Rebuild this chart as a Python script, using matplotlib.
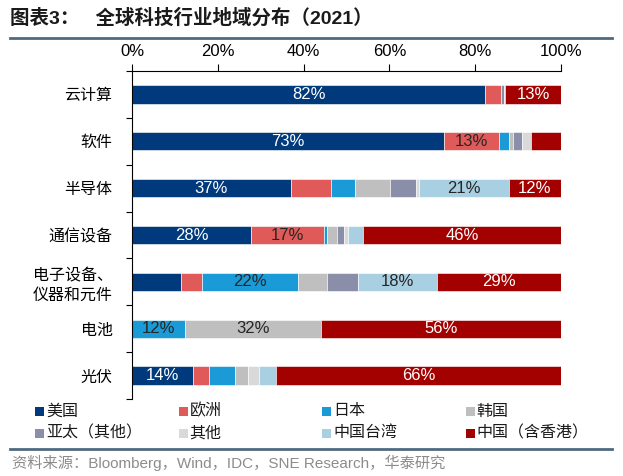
import numpy as np
import matplotlib
matplotlib.use('Agg')
import matplotlib.pyplot as plt
from matplotlib.lines import Line2D
from matplotlib.patches import Rectangle

# fonts: latin in Arial-like, chinese falls back to Noto CJK
plt.rcParams['font.family'] = ['Liberation Sans', 'Noto Sans CJK SC', 'DejaVu Sans']

# data (share of each region, %)
categories = ['云计算', '软件', '半导体', '通信设备', '电子设备、\n仪器和元件', '电池', '光伏']
regions = ['美国', '欧洲', '日本', '韩国', '亚太（其他）', '其他', '中国台湾', '中国（含香港）']

us = [82.4, 72.7, 37.0, 27.7, 11.4, 0.0, 14.3]
europe = [3.7, 12.8, 9.3, 17.0, 4.9, 0.0, 3.6]
japan = [0.0, 2.4, 5.7, 0.8, 22.4, 12.3, 6.2]
korea = [0.0, 0.9, 8.2, 2.2, 6.8, 31.8, 2.9]
apac = [0.5, 2.2, 6.0, 1.7, 7.1, 0.0, 0.0]
other = [0.4, 2.0, 0.6, 0.9, 0.1, 0.0, 2.7]
taiwan = [0.0, 0.0, 21.0, 3.6, 18.4, 0.0, 3.8]
china = [13.0, 7.0, 12.2, 46.1, 28.9, 55.9, 66.5]

xticks = [0, 20, 40, 60, 80, 100]

series = [us, europe, japan, korea, apac, other, taiwan, china]
colors = ['#003a7d', '#e05a5a', '#1a9ad6', '#bfbfbf', '#8a8ea8', '#d9d9d9', '#a8d0e2', '#a30000']
text_colors = ['white', '#262626', '#262626', '#262626', '#262626', '#262626', '#262626', 'white']
line_color = '#4f6a7f'

fig = plt.figure(figsize=(6.23, 4.76), dpi=100)
W, H = 623.0, 476.0
ax = fig.add_axes([132 / W, 1 - 399 / H, 429 / W, 328 / H])

y = np.arange(len(categories))
left = np.zeros(len(categories))
for vals, c, tc in zip(series, colors, text_colors):
    vals = np.array(vals)
    ax.barh(y, vals, left=left, height=0.39, color=c, edgecolor='white', linewidth=0.4)
    for yi, l, v in zip(y, left, vals):
        # only the big segments get a label
        if round(v) >= 12:
            ax.text(l + v / 2, yi, '{:.0f}%'.format(v), ha='center', va='center',
                    color=tc, fontsize=12)
    left += vals

ax.set_xlim(0, 100)
ax.set_ylim(len(categories) - 0.5, -0.5)

# x axis on top
ax.xaxis.tick_top()
ax.set_xticks(xticks)
ax.set_xticklabels(['{}%'.format(t) for t in xticks])
ax.tick_params(axis='x', length=5, width=0.8, labelsize=12, pad=4, colors='black')

# y labels, ticks between categories
ax.set_yticks(y)
ax.set_yticklabels(categories, fontsize=11.5, linespacing=1.4)
ax.tick_params(axis='y', which='major', length=0, pad=14)
ax.set_yticks(np.arange(-0.5, len(categories), 1), minor=True)
ax.tick_params(axis='y', which='minor', length=4, width=0.8)

for s in ['right', 'bottom']:
    ax.spines[s].set_visible(False)
for s in ['top', 'left']:
    ax.spines[s].set_linewidth(0.8)
    ax.spines[s].set_color('black')

# title and separator
fig.text(10 / W, 1 - 18 / H, '图表3：   全球科技行业地域分布（2021）', fontsize=14,
         fontweight='bold', va='center', ha='left', color='#1a1a1a')
fig.add_artist(Line2D([10 / W, 612 / W], [1 - 38 / H, 1 - 38 / H], color=line_color, lw=2))

# legend drawn by hand (4 columns, 2 rows)
for i, (name, c) in enumerate(zip(regions, colors)):
    col = i % 4
    row = i // 4
    x0 = 35 + col * 143.5
    y0 = 411 + row * 22
    fig.add_artist(Rectangle((x0 / W, 1 - (y0 + 4.5) / H), 9 / W, 9 / H,
                             transform=fig.transFigure, color=c, lw=0))
    fig.text((x0 + 11) / W, 1 - y0 / H, name, fontsize=11.5, va='center', ha='left',
             color='#1a1a1a')

fig.add_artist(Line2D([10 / W, 612 / W], [1 - 449 / H, 1 - 449 / H], color=line_color, lw=2))
fig.text(12 / W, 1 - 463 / H, '资料来源：Bloomberg，Wind，IDC，SNE Research，华泰研究',
         fontsize=11, va='center', ha='left', color='#8c8c8c')

fig.savefig('out.png', dpi=100)
